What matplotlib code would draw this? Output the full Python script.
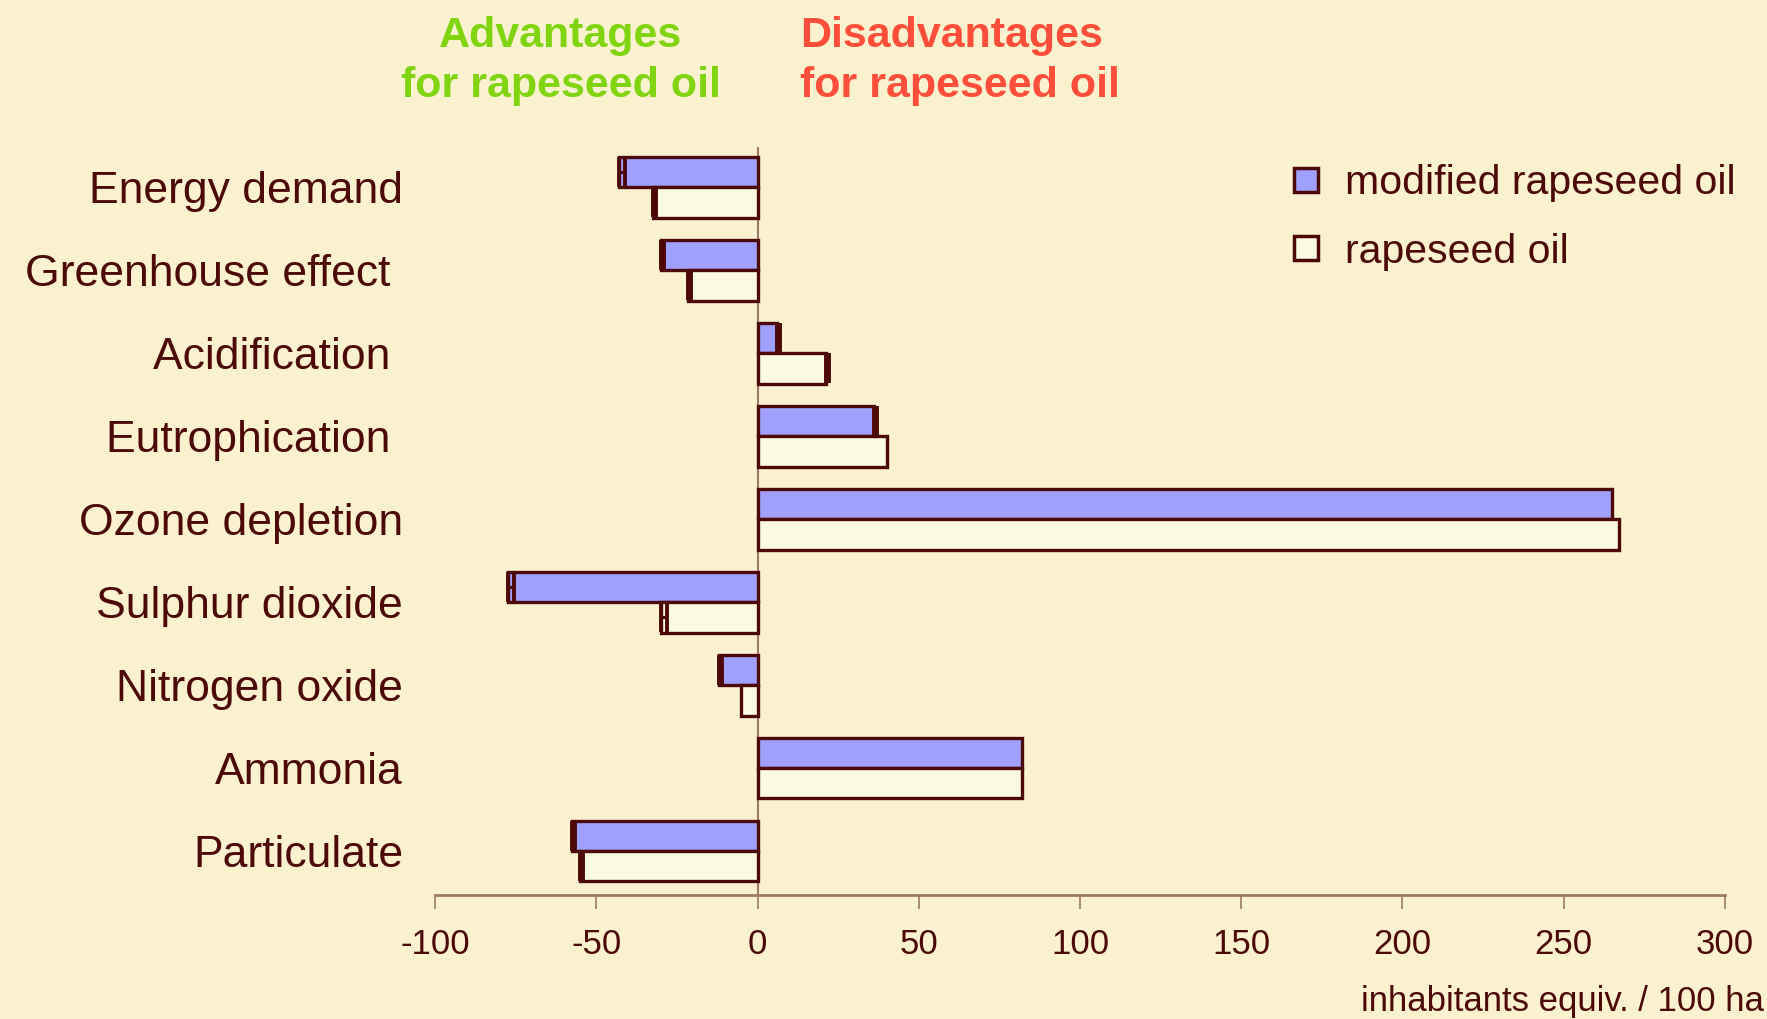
import matplotlib.pyplot as plt
from matplotlib.lines import Line2D
import numpy as np

plt.rcParams['font.family'] = ['Liberation Sans', 'DejaVu Sans']

# data
categories = ["Energy demand", "Greenhouse effect ", "Acidification ", "Eutrophication ",
              "Ozone depletion", "Sulphur dioxide", "Nitrogen oxide", "Ammonia", "Particulate"]
modified = [-43, -30, 6, 36, 265, -77.5, -12, 82, -57.5]
modified_err = [2, 1, 1, 1, 0, 2, 1, 0, 1]
rapeseed = [-32.5, -21.5, 21.3, 40, 267, -30, -5, 82, -55]
rapeseed_err = [1, 1, 1, 0, 0, 2, 0, 0, 1]
xticks = [-100, -50, 0, 50, 100, 150, 200, 250, 300]

bg = "#faf1cf"
maroon = "#4d0808"
blue = "#a0a0ff"
cream = "#fafae0"
axis_col = "#a07868"

fig = plt.figure(figsize=(17.67, 10.19), dpi=100, facecolor=bg)
ax = fig.add_axes([0.2462, 0.1217, 0.7300, 0.7345])
ax.set_facecolor(bg)

y = np.arange(len(categories))
h = 0.367

ax.barh(y - h / 2, modified, h, color=blue, edgecolor=maroon, linewidth=2.4, zorder=3,
        label="modified rapeseed oil")
ax.barh(y + h / 2, rapeseed, h, color=cream, edgecolor=maroon, linewidth=2.4, zorder=3,
        label="rapeseed oil")

# small error bars, drawn to the right of the bar end
zeros = np.zeros(len(categories))
m_err = np.array(modified_err)
r_err = np.array(rapeseed_err)
mask_m = m_err > 0
mask_r = r_err > 0
ax.errorbar(np.array(modified)[mask_m], (y - h / 2)[mask_m],
            xerr=[zeros[mask_m], m_err[mask_m]], fmt='none', ecolor=maroon,
            elinewidth=2.2, capsize=11, capthick=2.8, zorder=4)
ax.errorbar(np.array(rapeseed)[mask_r], (y + h / 2)[mask_r],
            xerr=[zeros[mask_r], r_err[mask_r]], fmt='none', ecolor=maroon,
            elinewidth=2.2, capsize=11, capthick=2.8, zorder=4)

ax.axvline(0, color=axis_col, linewidth=1.5, zorder=2)

ax.set_xlim(-100, 300)
ax.set_ylim(8.53, -0.49)
ax.set_xticks(xticks)
ax.set_xticklabels([str(t) for t in xticks])
ax.set_yticks(y)
ax.set_yticklabels(categories)

for s in ["top", "right", "left"]:
    ax.spines[s].set_visible(False)
ax.spines["bottom"].set_color(axis_col)
ax.spines["bottom"].set_linewidth(2)

ax.tick_params(axis='x', colors=axis_col, labelcolor=maroon, labelsize=25,
               length=10, width=1.2, pad=14)
ax.tick_params(axis='y', length=0, labelcolor=maroon, labelsize=32, pad=23)

fig.text(0.9985, 0.017, "inhabitants equiv. / 100 ha", ha='right', va='center',
         fontsize=25, color=maroon)

fig.text(561 / 1767, 1 - 61 / 1019, "Advantages\nfor rapeseed oil", ha='center',
         va='center', fontsize=31, fontweight='bold', color="#80d410", linespacing=1.35)
fig.text(800 / 1767, 1 - 61 / 1019, "Disadvantages\nfor rapeseed oil", ha='left',
         va='center', fontsize=31, fontweight='bold', color="#ff4f3a", linespacing=1.35)

handles = [
    Line2D([], [], linestyle='none', marker='s', markersize=17, markerfacecolor=blue,
           markeredgecolor=maroon, markeredgewidth=2.5),
    Line2D([], [], linestyle='none', marker='s', markersize=17, markerfacecolor=cream,
           markeredgecolor=maroon, markeredgewidth=2.5),
]
leg = fig.legend(handles, ["modified rapeseed oil", "rapeseed oil"], loc='upper left',
                 bbox_to_anchor=(1286 / 1767, 1 - 164 / 1019), frameon=False, fontsize=29.5,
                 handlelength=1.0, handletextpad=0.45, labelspacing=0.75,
                 borderpad=0, borderaxespad=0)
for t in leg.get_texts():
    t.set_color(maroon)

fig.savefig("out.png", dpi=100, facecolor=bg)
